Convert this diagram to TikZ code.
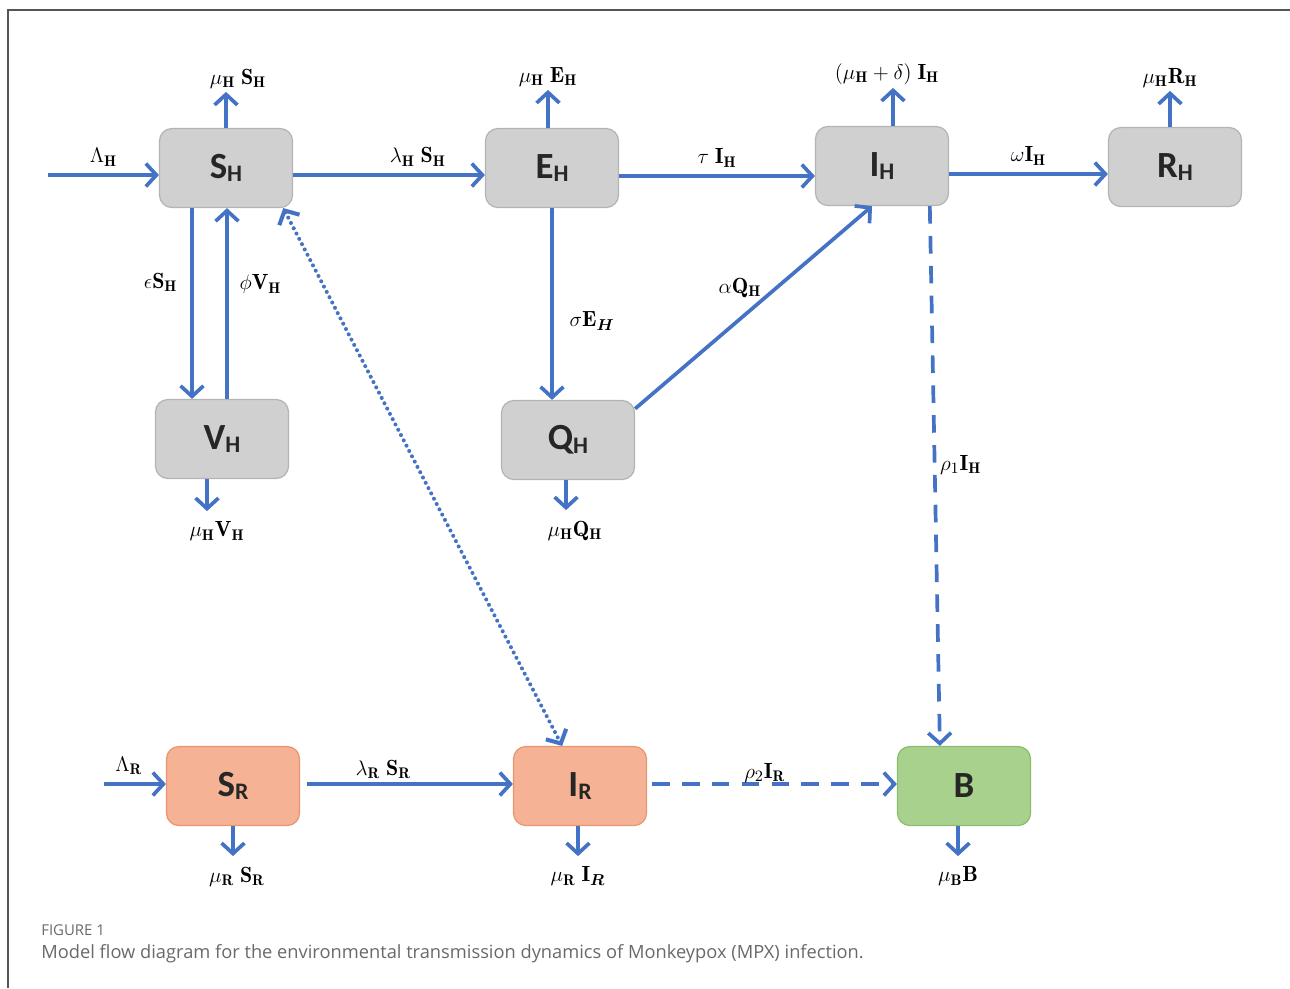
\documentclass[tikz,border=0pt]{standalone}
\usepackage{amsmath}
\usepackage{fontspec}
\newfontfamily\boxfont{Carlito}
\newfontfamily\capfont{Open Sans}
\usetikzlibrary{arrows.meta,positioning}
\definecolor{flowblue}{RGB}{68,114,196}
\definecolor{humanfill}{RGB}{208,208,208}
\definecolor{humanedge}{RGB}{180,180,180}
\definecolor{rodentfill}{RGB}{245,178,148}
\definecolor{rodentedge}{RGB}{232,150,112}
\definecolor{pathfill}{RGB}{169,209,142}
\definecolor{pathedge}{RGB}{138,188,108}
\definecolor{framegray}{RGB}{85,85,85}
\definecolor{captiongray}{RGB}{105,105,105}
\newcommand{\compname}[2]{{\fontsize{21}{24}\selectfont #1}{\fontsize{13.5}{14}\selectfont\raisebox{-0.3ex}{#2}}}

\begin{document}
\begin{tikzpicture}[
    x=0.02cm, y=-0.02cm,
    comp/.style={rectangle, draw=humanedge, fill=humanfill, rounded corners=7pt, line width=0.7pt, minimum width=2.66cm, minimum height=1.58cm, font=\boxfont\bfseries, text=black!85},
    human/.style={comp},
    rodent/.style={comp, draw=rodentedge, fill=rodentfill},
    pathogen/.style={comp, draw=pathedge, fill=pathfill},
    flow/.style={-{Straight Barb[length=6pt, width=13pt]}, line width=2.1pt, draw=flowblue},
    dflow/.style={flow, dash pattern=on 10pt off 7pt},
    dotflow/.style={{Straight Barb[length=6pt, width=13pt]}-{Straight Barb[length=6pt, width=13pt]}, line width=2.3pt, draw=flowblue, dash pattern=on 0pt off 3.4pt, line cap=round},
    rate/.style={font=\fontsize{12.5}{14}\selectfont, inner sep=1pt}
]
\useasboundingbox (0,0) rectangle (1290,988);

% Frame
\draw[framegray, line width=1.1pt] (8,988) -- (8,10) -- (1290,10);

% Human compartments
\node[human] (SH) at (226,168) {\compname{S}{H}};
\node[human] (EH) at (552,168) {\compname{E}{H}};
\node[human] (IH) at (882,166) {\compname{I}{H}};
\node[human] (RH) at (1175,167) {\compname{R}{H}};
\node[human] (VH) at (222,439) {\compname{V}{H}};
\node[human] (QH) at (568,440) {\compname{Q}{H}};

% Rodent and environment compartments
\node[rodent] (SR) at (233,786) {\compname{S}{R}};
\node[rodent] (IR) at (580,786) {\compname{I}{R}};
\node[pathogen] (B) at (964,786) {{\fontsize{21}{24}\selectfont B}};

% Recruitment
\coordinate (inH) at (48,175);
\coordinate (inR) at (104,784);
\draw[flow] (inH) -- node[rate, above=3pt] (recH) {$\Lambda_{\mathbf H}$} (inH -| SH.west);
\draw[flow] (inR) -- node[rate, above=3pt, pos=0.4] (recR) {$\Lambda_{\mathbf R}$} (inR -| SR.west);

% Human flows
\draw[flow] ([yshift=-0.14cm]SH.east) -- node[rate, above=3pt, pos=0.65] (infH) {$\lambda_{\mathbf H}\;\mathbf S_{\mathbf H}$} ([yshift=-0.14cm]EH.west);
\draw[flow] ([yshift=-0.16cm]EH.east) -- node[rate, above=3pt] (progH) {$\tau\;\mathbf I_{\mathbf H}$} ([yshift=-0.2cm]IH.west);
\draw[flow] ([yshift=-0.16cm]IH.east) -- node[rate, above=3pt] (recoH) {$\omega\mathbf I_{\mathbf H}$} ([yshift=-0.14cm]RH.west);
\draw[flow] ([xshift=-0.68cm]SH.south) -- node[rate, left=0.22cm, pos=0.39] (vaccH) {$\epsilon\mathbf S_{\mathbf H}$} ([xshift=-0.68cm]SH.south |- VH.north);
\draw[flow] ([xshift=0.1cm]VH.north) -- node[rate, right=0.18cm, pos=0.6] (waneH) {$\phi\mathbf V_{\mathbf H}$} ([xshift=0.1cm]VH.north |- SH.south);
\draw[flow] (EH.south) -- node[rate, right=0.28cm, pos=0.59] (quarH) {$\sigma\mathbf E_{\boldsymbol H}$} (EH.south |- QH.north);
\draw[flow] (QH.25) -- node[rate, anchor=south east, inner sep=0pt, pos=0.54] (relQH) {$\alpha\mathbf Q_{\mathbf H}$} (IH.-104);

% Natural deaths
\draw[flow] (SH.north) -- ++(0,-36) node[rate, above, xshift=0.24cm] (muSH) {$\mu_{\mathbf H}\;\mathbf S_{\mathbf H}$};
\draw[flow] ([xshift=-0.08cm]EH.north) -- ++(0,-38) node[rate, above] (muEH) {$\mu_{\mathbf H}\;\mathbf E_{\mathbf H}$};
\draw[flow] ([xshift=0.22cm]IH.north) -- ++(0,-38) node[rate, above, xshift=-0.12cm] (muIH) {$(\mu_{\mathbf H}+\delta)\;\mathbf I_{\mathbf H}$};
\draw[flow] ([xshift=-0.1cm]RH.north) -- ++(0,-36) node[rate, above] (muRH) {$\mu_{\mathbf H}\mathbf R_{\mathbf H}$};
\draw[flow] ([xshift=-0.3cm]VH.south) -- ++(0,32) node[rate, below=4pt, xshift=0.2cm] (muVH) {$\mu_{\mathbf H}\mathbf V_{\mathbf H}$};
\draw[flow] ([xshift=-0.04cm]QH.south) -- ++(0,30) node[rate, below=4pt, xshift=0.18cm] (muQH) {$\mu_{\mathbf H}\mathbf Q_{\mathbf H}$};
\draw[flow] (SR.south) -- ++(0,30) node[rate, below=4pt, xshift=0.08cm] (muSR) {$\mu_{\mathbf R}\;\mathbf S_{\mathbf R}$};
\draw[flow] ([xshift=-0.04cm]IR.south) -- ++(0,30) node[rate, below=4pt] (muIR) {$\mu_{\mathbf R}\;\mathbf I_{\boldsymbol R}$};
\draw[flow] ([xshift=-0.12cm]B.south) -- ++(0,30) node[rate, below=4pt] (muB) {$\mu_{\mathbf B}\mathbf B$};

% Rodent flows and shedding
\draw[flow] ([xshift=0.14cm,yshift=0.04cm]SR.east) -- node[rate, above=1pt, pos=0.37] (infR) {$\lambda_{\mathbf R}\;\mathbf S_{\mathbf R}$} ([yshift=0.04cm]IR.west);
\draw[dflow] ([xshift=0.1cm,yshift=0.04cm]IR.east) -- node[rate, above=-1pt, pos=0.46] (shedR) {$\rho_2\mathbf I_{\mathbf R}$} ([yshift=0.04cm]B.west);
\draw[dflow] (IH.-40) -- node[rate, right=1pt, pos=0.48] (shedH) {$\rho_1\mathbf I_{\mathbf H}$} (B.121);
\draw[dotflow] (SH.-35) -- (IR.114);

% Caption
\node[anchor=west, inner sep=0pt, font=\capfont\fontsize{8.5}{10}\selectfont, text=captiongray] (figno) at (41,930) {FIGURE 1};
\node[anchor=west, inner sep=0pt, font=\capfont\fontsize{10.4}{12}\selectfont, text=captiongray] (figcap) at (41,954) {Model flow diagram for the environmental transmission dynamics of Monkeypox (MPX) infection.};

\end{tikzpicture}
\end{document}
